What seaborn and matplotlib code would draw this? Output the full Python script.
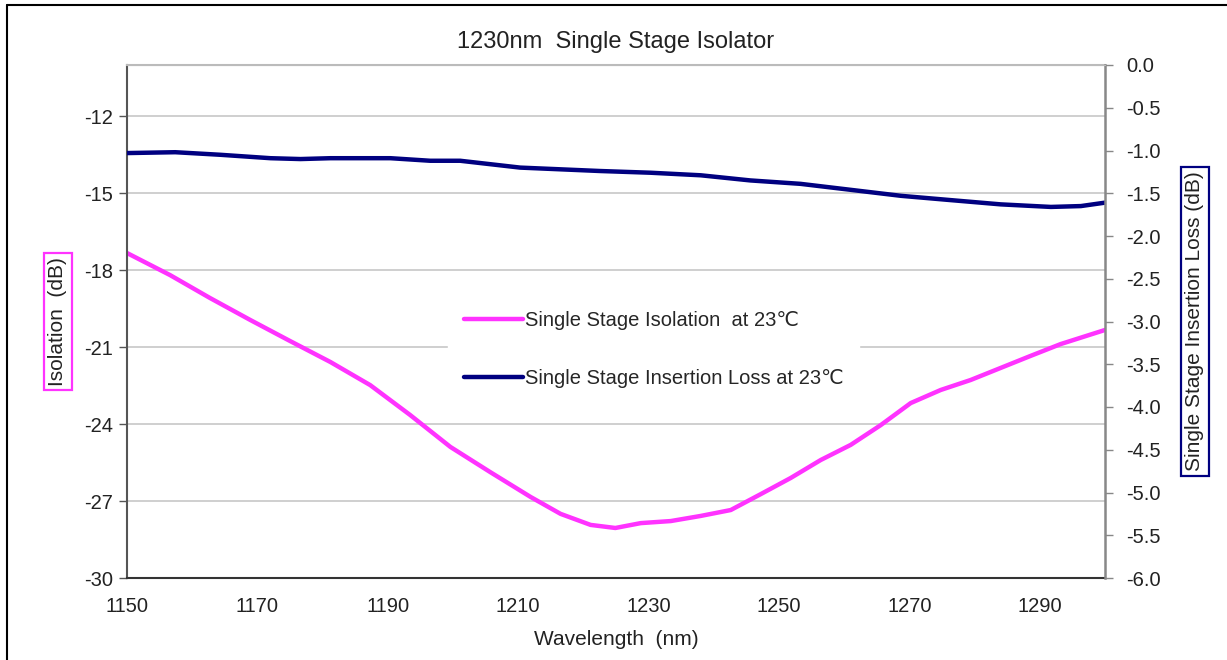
import matplotlib
matplotlib.use("Agg")
import matplotlib.pyplot as plt
import seaborn as sns
import pandas as pd
from matplotlib.lines import Line2D

# isolation curve (left axis, dB)
iso_wl = [1150, 1156.6, 1162.7, 1168.9, 1175, 1181.2, 1187.3, 1193.4, 1199.6,
          1205.7, 1211.9, 1216.5, 1221.1, 1224.9, 1228.8, 1233.4, 1238, 1242.6,
          1247.2, 1251.8, 1256.4, 1261, 1265.6, 1270.2, 1274.8, 1279.4, 1284,
          1288.6, 1293.2, 1300]
iso_db = [-17.33, -18.19, -19.08, -19.94, -20.76, -21.58, -22.48, -23.64, -24.89,
          -25.87, -26.84, -27.50, -27.93, -28.05, -27.86, -27.78, -27.58, -27.35,
          -26.73, -26.10, -25.40, -24.81, -24.04, -23.18, -22.67, -22.28, -21.81,
          -21.34, -20.88, -20.33]

# insertion loss curve (right axis, dB)
il_wl = [1150, 1157.4, 1164.3, 1172, 1176.6, 1181.2, 1190.4, 1196.5, 1201.1,
         1210.3, 1222.6, 1230.3, 1238, 1245.6, 1253.3, 1261, 1268.7, 1276.3,
         1284, 1291.7, 1296.3, 1300]
il_db = [-1.03, -1.02, -1.05, -1.09, -1.10, -1.09, -1.09, -1.12, -1.12,
         -1.20, -1.24, -1.26, -1.29, -1.35, -1.39, -1.46, -1.53, -1.58,
         -1.63, -1.66, -1.65, -1.61]

x_ticks = [1150, 1170, 1190, 1210, 1230, 1250, 1270, 1290]
left_ticks = [-30, -27, -24, -21, -18, -15, -12]
right_ticks = [-6.0, -5.5, -5.0, -4.5, -4.0, -3.5, -3.0, -2.5, -2.0, -1.5, -1.0, -0.5, 0.0]

pink = "#FF33FF"
navy = "#000080"

sns.set_style("white")
plt.rcParams['font.family'] = ['Liberation Sans', 'DejaVu Sans']
plt.rcParams['axes.unicode_minus'] = False

fig = plt.figure(figsize=(12.27, 6.6), dpi=100)
ax = fig.add_axes([127 / 1227, 1 - 578 / 660, 978 / 1227, 513 / 660])
ax2 = ax.twinx()

iso = pd.DataFrame({"wl": iso_wl, "db": iso_db})
il = pd.DataFrame({"wl": il_wl, "db": il_db})
sns.lineplot(data=iso, x="wl", y="db", ax=ax, color=pink, lw=3.2)
sns.lineplot(data=il, x="wl", y="db", ax=ax2, color=navy, lw=3.2)

ax.set_xlim(1150, 1300)
ax.set_ylim(-30, -10)
ax2.set_ylim(-6, 0)
ax.set_xticks(x_ticks)
ax.set_yticks(left_ticks)
ax2.set_yticks(right_ticks)
ax2.set_yticklabels([f"{v:.1f}" for v in right_ticks])

for t in left_ticks[1:]:
    ax.axhline(t, color="#cccccc", lw=1.3, zorder=0)

ax.spines["left"].set_color("#555555")
ax.spines["bottom"].set_color("#333333")
ax.spines["top"].set_color("#bbbbbb")
ax.spines["right"].set_visible(False)
ax2.spines["right"].set_color("#888888")
ax2.spines["top"].set_color("#bbbbbb")
ax2.spines["left"].set_visible(False)
ax2.spines["bottom"].set_visible(False)
for sp in ["left", "bottom", "top"]:
    ax.spines[sp].set_linewidth(1.5)
ax2.spines["right"].set_linewidth(1.8)

ax.tick_params(axis="x", direction="in", length=6, width=1, color="#333333",
               labelsize=14.5, colors="#222222", pad=14)
ax.tick_params(axis="y", direction="out", length=6, width=1, color="#555555",
               labelsize=14.5, labelcolor="#222222", pad=4, left=True)
ax2.tick_params(axis="y", direction="out", length=6, width=1, color="#888888",
                labelsize=14.5, labelcolor="#222222", pad=9, right=True)

ax.set_xlabel("Wavelength  (nm)", fontsize=15, color="#222222", labelpad=10)
ax.set_ylabel("Isolation  (dB)", fontsize=15, color="#222222", labelpad=12,
              bbox=dict(facecolor="none", edgecolor=pink, lw=1.6, pad=3))
ax2.set_ylabel("Single Stage Insertion Loss (dB)", fontsize=15, color="#222222",
               labelpad=18, rotation=90,
               bbox=dict(facecolor="none", edgecolor=navy, lw=1.6, pad=3))
ax.set_title("1230nm  Single Stage Isolator", fontsize=17, color="#222222", pad=12)

handles = [Line2D([], [], color=pink, lw=3.2), Line2D([], [], color=navy, lw=3.2)]
labels = ["Single Stage Isolation  at 23\u2103", "Single Stage Insertion Loss at 23\u2103"]
leg = ax2.legend(handles, labels, loc="upper left", bbox_to_anchor=(0.318, 0.572),
                 frameon=True, fontsize=14.5, handlelength=2.9, handletextpad=0.1,
                 labelspacing=1.95, borderpad=0.8, fancybox=False)
leg.get_frame().set_edgecolor("white")
leg.get_frame().set_facecolor("white")
leg.get_frame().set_alpha(1)

# outer chart border
fig.add_artist(Line2D([7 / 1227, 7 / 1227], [0, 1 - 5 / 660], color="black", lw=1.5,
                      transform=fig.transFigure))
fig.add_artist(Line2D([7 / 1227, 1], [1 - 5 / 660, 1 - 5 / 660], color="black", lw=1.5,
                      transform=fig.transFigure))

fig.savefig("out.png", dpi=100)
